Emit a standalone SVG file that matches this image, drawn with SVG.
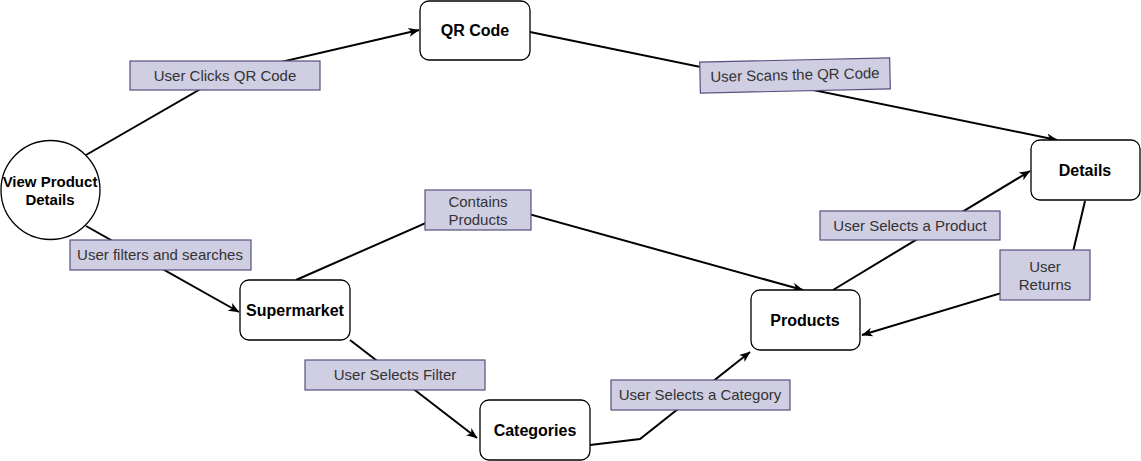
<svg xmlns="http://www.w3.org/2000/svg" width="1141" height="461" viewBox="0 0 1141 461">
<defs>
<marker id="arr" markerUnits="userSpaceOnUse" markerWidth="12" markerHeight="10" refX="10.5" refY="4.5" orient="auto">
<path d="M0,0 L11,4.5 L0,9 L3,4.5 z" fill="#000"/>
</marker>
<style>
.node{fill:#fff;stroke:#000;stroke-width:1.3}
.nt{font-family:"Liberation Sans",Arial,sans-serif;font-weight:bold;font-size:16px;fill:#000;text-anchor:middle}
.lbl{fill:#d0cee2;stroke:#56517e;stroke-width:1.2}
.lt{font-family:"Liberation Sans",Arial,sans-serif;font-size:15px;fill:#333;text-anchor:middle}
.edge{fill:none;stroke:#000;stroke-width:2}
</style>
</defs>
<rect width="1141" height="461" fill="#fff"/>
<g id="connectors">
<polyline class="edge" points="86,155 225,75 419,30" marker-end="url(#arr)"/>
<polyline class="edge" points="530,32 1057,140" marker-end="url(#arr)"/>
<polyline class="edge" points="86,226 239,312" marker-end="url(#arr)"/>
<polyline class="edge" points="296,280 478,200 803,290" marker-end="url(#arr)"/>
<polyline class="edge" points="350,340 477,438" marker-end="url(#arr)"/>
<polyline class="edge" points="590,445 640,439 750,352" marker-end="url(#arr)"/>
<polyline class="edge" points="833,290 1030,171" marker-end="url(#arr)"/>
<polyline class="edge" points="1085,201 1068,273 862,335" marker-end="url(#arr)"/>
</g>
<g id="labels">
<g id="lbl-clicks"><rect class="lbl" x="130" y="61" width="190" height="29"/><text class="lt" x="225" y="81">User Clicks QR Code</text></g>
<g id="lbl-scans" transform="rotate(-1.3 795 75)"><rect class="lbl" x="700" y="60" width="190" height="31"/><text class="lt" x="795" y="80">User Scans the QR Code</text></g>
<g id="lbl-contains"><rect class="lbl" x="425" y="190" width="106" height="40"/><text class="lt" x="478" y="207">Contains</text><text class="lt" x="478" y="225">Products</text></g>
<g id="lbl-filters"><rect class="lbl" x="70" y="240" width="181" height="30"/><text class="lt" x="160" y="260">User filters and searches</text></g>
<g id="lbl-selprod"><rect class="lbl" x="820" y="211" width="180" height="29"/><text class="lt" x="910" y="231">User Selects a Product</text></g>
<g id="lbl-returns"><rect class="lbl" x="1000" y="250" width="90" height="50"/><text class="lt" x="1045" y="272">User</text><text class="lt" x="1045" y="290">Returns</text></g>
<g id="lbl-filter"><rect class="lbl" x="305" y="360" width="180" height="30"/><text class="lt" x="395" y="380">User Selects Filter</text></g>
<g id="lbl-category"><rect class="lbl" x="611" y="380" width="179" height="30"/><text class="lt" x="700" y="400">User Selects a Category</text></g>
</g>
<g id="node-view"><circle class="node" cx="50.5" cy="190" r="49.5"/><text class="nt" style="font-size:15px" x="50" y="187">View Product</text><text class="nt" style="font-size:15px" x="50" y="205">Details</text></g>
<g id="node-qr"><rect class="node" x="420" y="1" width="110" height="59" rx="9"/><text class="nt" x="475" y="36">QR Code</text></g>
<g id="node-details"><rect class="node" x="1031" y="140" width="109" height="60" rx="9"/><text class="nt" x="1085" y="176">Details</text></g>
<g id="node-products"><rect class="node" x="751" y="290" width="109" height="60" rx="9"/><text class="nt" x="805" y="326">Products</text></g>
<g id="node-supermarket"><rect class="node" x="240" y="280" width="110" height="60" rx="9"/><text class="nt" x="295" y="316">Supermarket</text></g>
<g id="node-categories"><rect class="node" x="480" y="400" width="110" height="60" rx="9"/><text class="nt" x="535" y="436">Categories</text></g>
</svg>
